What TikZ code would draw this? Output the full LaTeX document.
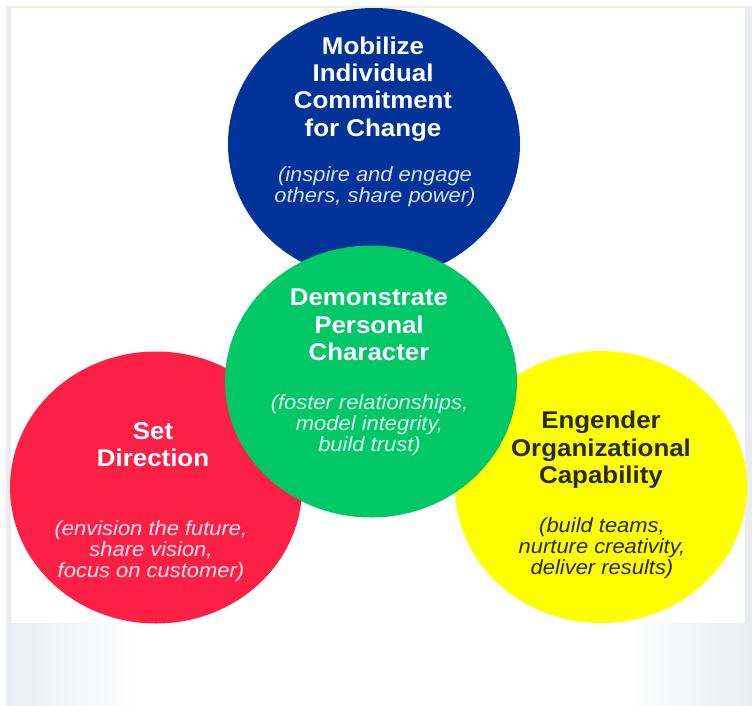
\documentclass[tikz,border=0pt]{standalone}
\usepackage{fontspec}
\setmainfont[FakeStretch=1.07]{Liberation Sans}
\usetikzlibrary{shapes.geometric}
\definecolor{cblue}{RGB}{2,51,152}
\definecolor{cgreen}{RGB}{0,200,102}
\definecolor{cred}{RGB}{252,32,70}
\definecolor{cyellow}{RGB}{255,255,0}
\definecolor{frameg}{RGB}{234,236,239}
\definecolor{topline}{RGB}{240,238,222}
\definecolor{darktxt}{RGB}{40,40,40}
\tikzset{
  blob/.style={ellipse, minimum width=292pt, minimum height=272pt, inner sep=0pt, draw=none},
  title/.style={align=center, inner sep=0pt, font=\fontsize{24.2}{27.3}\selectfont\bfseries},
  sub/.style={align=center, inner sep=0pt, font=\fontsize{20.5}{20.8}\selectfont\itshape},
}
\begin{document}
\begin{tikzpicture}[x=1pt,y=-1pt]
\useasboundingbox (0,0) rectangle (752,706);
% background frame
\fill[white] (0,0) rectangle (752,706);
\fill[frameg] (6,6) rectangle (752,706);
\shade[left color=frameg, right color=white] (6,623) rectangle (140,706);
\fill[white] (140,623) rectangle (620,706);
\shade[left color=white, right color=frameg] (620,623) rectangle (752,706);
\fill[white] (11,8) rectangle (745,623);
\draw[topline, line width=2pt] (11,7) -- (745,7);
% circles
\node[blob, fill=cred] (red) at (156,487.5) {};
\node[blob, fill=cyellow] (yellow) at (601,487) {};
\node[blob, fill=cblue] (blue) at (374,144) {};
\node[blob, fill=cgreen] (green) at (371,381.5) {};
% texts
\node[title, text=white] (bluet) at (373,89) {Mobilize\\Individual\\Commitment\\for Change};
\node[sub, text=white!85!cblue] (blues) at (375,187) {(inspire and engage\\others, share power)};
\node[title, text=white] (greent) at (369,325) {Demonstrate\\Personal\\Character};
\node[sub, text=white!88!cgreen] (greens) at (369.5,425) {(foster relationships,\\model integrity,\\build trust)};
\node[title, text=white] (redt) at (153,445) {Set\\Direction};
\node[sub, text=white!88!cred] (reds) at (151,551) {(envision the future,\\share vision,\\focus on customer)};
\node[title, text=darktxt] (yellowt) at (601,450) {Engender\\Organizational\\Capability};
\node[sub, text=darktxt] (yellows) at (602,548) {(build teams,\\nurture creativity,\\deliver results)};
\end{tikzpicture}
\end{document}
